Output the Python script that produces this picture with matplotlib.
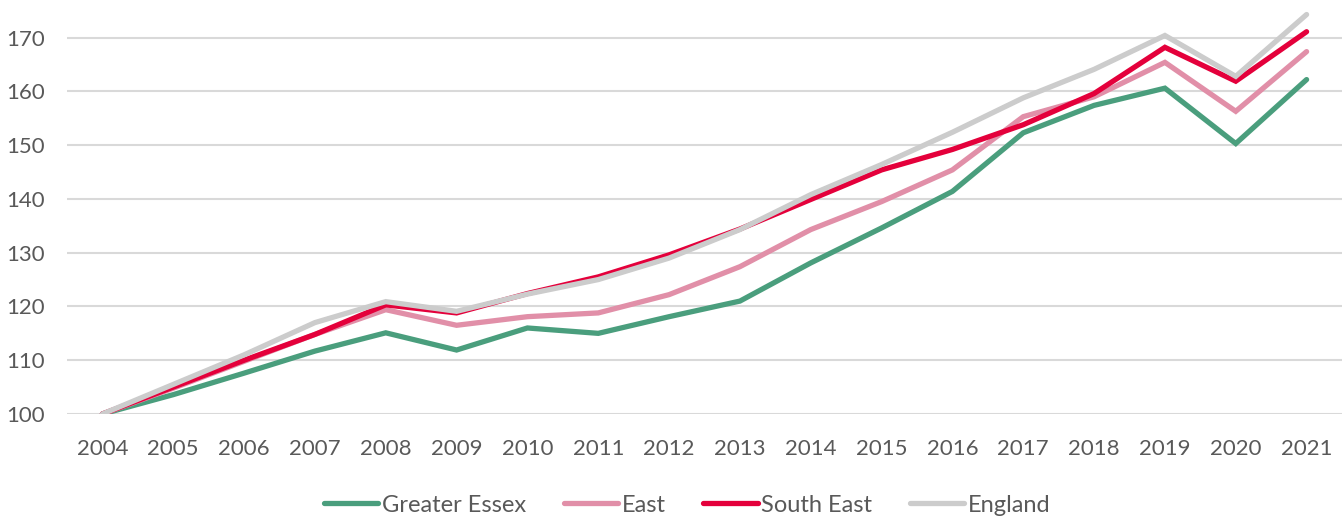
import matplotlib.pyplot as plt

plt.rcParams['font.family'] = ['Lato', 'DejaVu Sans']

years = list(range(2004, 2022))
greater_essex = [100, 103.6, 107.6, 111.7, 115.1, 111.9, 116.0, 115.0, 118.1, 121.0,
                 128.1, 134.6, 141.4, 152.3, 157.4, 160.6, 150.3, 162.2]
east = [100, 104.8, 109.8, 114.8, 119.4, 116.5, 118.1, 118.8, 122.2, 127.4,
        134.3, 139.5, 145.4, 155.3, 159.0, 165.4, 156.3, 167.4]
south_east = [100, 105.0, 110.0, 114.8, 120.3, 118.8, 122.4, 125.5, 129.6, 134.4,
              139.9, 145.4, 149.2, 153.8, 159.6, 168.2, 161.9, 171.1]
england = [100, 105.5, 111.0, 117.0, 120.9, 119.1, 122.3, 125.0, 129.0, 134.3,
           140.8, 146.4, 152.4, 158.8, 164.1, 170.4, 162.8, 174.3]

series = [
    ("Greater Essex", greater_essex, "#4a9e7d"),
    ("East", east, "#e18fa8"),
    ("South East", south_east, "#e4003b"),
    ("England", england, "#cccccc"),
]

fig = plt.figure(figsize=(13.42, 5.18), dpi=100)
ax = fig.add_axes([67 / 1342, 104 / 518, 1275 / 1342, 414 / 518])

for name, vals, col in series:
    ax.plot(years, vals, color=col, lw=3.8, label=name, solid_capstyle='round',
            solid_joinstyle='miter', zorder=3)

ax.set_xlim(2003.5, 2021.5)
ax.set_ylim(100, 177)
ax.set_yticks(range(100, 171, 10))
ax.set_xticks(years)
ax.yaxis.grid(True, color='#d9d9d9', lw=1.5, zorder=0)
ax.set_axisbelow(True)
for s in ax.spines.values():
    s.set_visible(False)
ax.tick_params(axis='both', length=0, labelsize=16, colors='#595959')
ax.tick_params(axis='x', pad=18)
ax.tick_params(axis='y', pad=16)

leg = fig.legend(loc='center', bbox_to_anchor=(0.512, 0.025), ncol=4, frameon=False,
                 fontsize=17, handlelength=2.3, columnspacing=1.6, handletextpad=0.15)
for t in leg.get_texts():
    t.set_color('#595959')

fig.savefig('out.png', dpi=100)
